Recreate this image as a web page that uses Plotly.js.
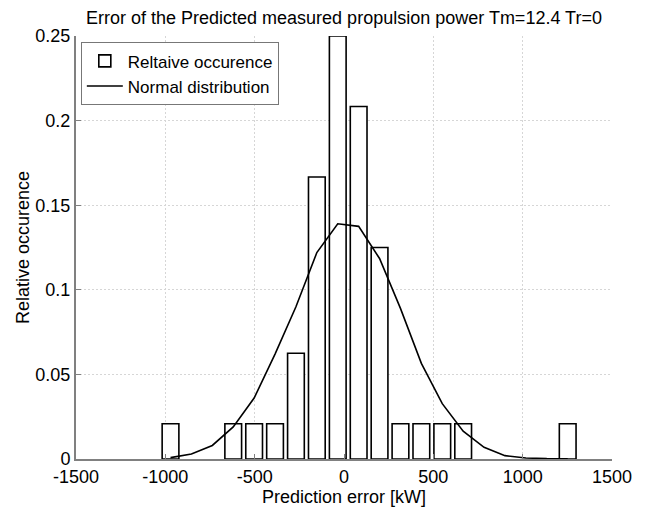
<!DOCTYPE html>
<html>
<head>
<meta charset="utf-8">
<script src="https://cdn.plot.ly/plotly-3.0.1.min.js"></script>
<style>html,body{margin:0;padding:0;background:#fff;}#chart{width:649px;height:508px;}</style>
</head>
<body>
<div id="chart"></div>
<script>
// Bin centres of the histogram (kW)
const binCenters = [-971, -854, -737, -620, -503, -386, -269, -152, -35, 82, 199, 316, 433, 550, 667, 784, 901, 1018, 1135, 1252];
// Relative occurence per bin
const relOccurence = [0.0208, 0, 0, 0.0208, 0.0208, 0.0208, 0.0625, 0.1667, 0.25, 0.2083, 0.125, 0.0208, 0.0208, 0.0208, 0.0208, 0, 0, 0, 0, 0.0208];
// Normal distribution curve evaluated at the bin centres
const normalDist = [0.0008, 0.003, 0.008, 0.019, 0.036, 0.062, 0.090, 0.122, 0.139, 0.1375, 0.1185, 0.089, 0.0565, 0.0327, 0.0164, 0.0069, 0.002, 0.0006, 0.0002, 0.0001];
// Axis ticks
const xTickVals = [-1500, -1000, -500, 0, 500, 1000, 1500];
const xTickText = ['-1500', '-1000', '-500', '0', '500', '1000', '1500'];
const yTickVals = [0, 0.05, 0.1, 0.15, 0.2, 0.25];
const yTickText = ['0', '0.05', '0.1', '0.15', '0.2', '0.25'];

const binStep = binCenters[1] - binCenters[0];
const FONT = 'Liberation Sans, Arial, sans-serif';
const FS = 18;
// empty bins get no outline (they sit hidden under the x axis in the original)
const barLineWidths = relOccurence.map(v => (v > 0 ? 1.6 : 0));

const traces = [
  {
    type: 'bar',
    name: 'Reltaive occurence',
    x: binCenters,
    y: relOccurence,
    width: binStep * 0.8,
    marker: {color: 'rgba(255,255,255,1)', line: {color: '#000', width: barLineWidths}},
    hoverinfo: 'x+y'
  },
  {
    type: 'scatter',
    mode: 'lines',
    name: 'Normal distribution',
    x: binCenters,
    y: normalDist,
    line: {color: '#000', width: 1.6}
  }
];

const layout = {
  width: 649,
  height: 508,
  margin: {l: 76, r: 37, t: 36, b: 49, pad: 0},
  paper_bgcolor: '#fff',
  plot_bgcolor: '#fff',
  font: {family: FONT, size: FS, color: '#000'},
  title: {
    text: 'Error of the Predicted measured propulsion power Tm=12.4 Tr=0',
    font: {family: FONT, size: FS, color: '#000'},
    x: 0.53, xanchor: 'center', y: 0.966, yanchor: 'middle'
  },
  showlegend: true,
  legend: {
    x: 0.009, y: 0.985, xanchor: 'left', yanchor: 'top',
    bgcolor: '#fff', bordercolor: '#777', borderwidth: 1,
    font: {family: FONT, size: 17, color: '#000'},
    tracegroupgap: 0, itemwidth: 36
  },
  xaxis: {
    range: [-1500, 1500],
    tickvals: xTickVals,
    ticktext: xTickText,
    ticks: 'inside', ticklen: 5, tickcolor: '#808080',
    showline: true, linecolor: '#808080', linewidth: 2.2,
    showgrid: true, gridcolor: '#d6d6d6', gridwidth: 1, griddash: '2px,2px',
    zeroline: false, mirror: false, layer: 'above traces',
    tickfont: {family: FONT, size: FS, color: '#000'},
    title: {text: 'Prediction error [kW]', font: {family: FONT, size: FS, color: '#000'}, standoff: 4},
    fixedrange: true
  },
  yaxis: {
    range: [0, 0.25],
    tickvals: yTickVals,
    ticktext: yTickText,
    ticks: 'inside', ticklen: 5, tickcolor: '#808080',
    showline: true, linecolor: '#808080', linewidth: 2,
    showgrid: true, gridcolor: '#d6d6d6', gridwidth: 1, griddash: '2px,2px',
    zeroline: false, mirror: false,
    tickfont: {family: FONT, size: FS, color: '#000'},
    title: {text: 'Relative occurence', font: {family: FONT, size: FS, color: '#000'}},
    fixedrange: true
  },
  bargap: 0
};

Plotly.newPlot('chart', traces, layout, {staticPlot: true, displayModeBar: false});
</script>
</body>
</html>
